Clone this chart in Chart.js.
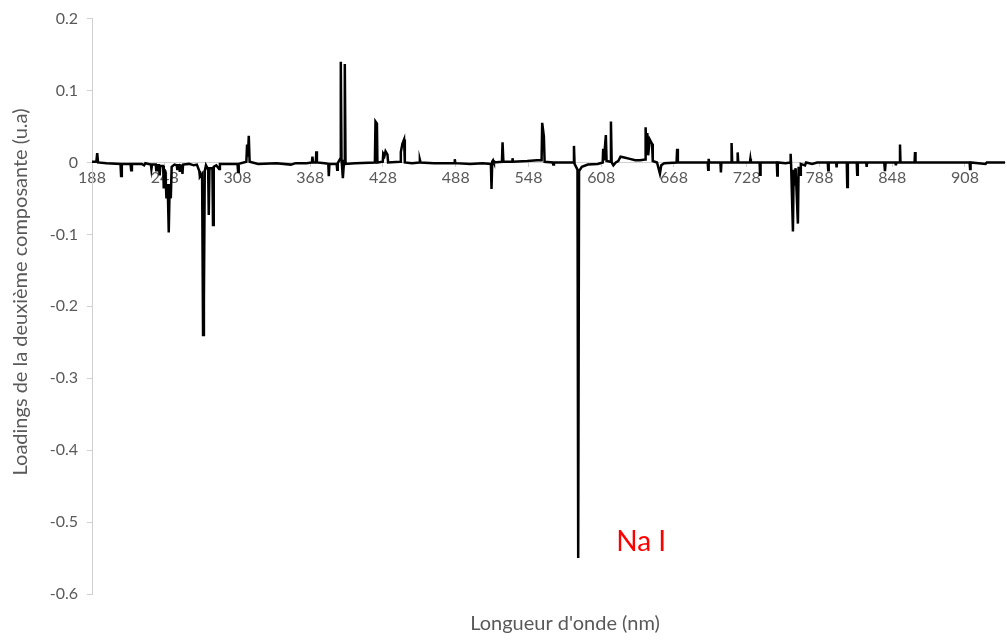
<!DOCTYPE html>
<html lang="fr">
<head>
  <meta charset="UTF-8">
  <title>Loadings PC2</title>
  <style>
    html, body { margin: 0; padding: 0; background: #fff; }
    canvas { display: block; }
  </style>
</head>
<body>
  <canvas id="loadingsChart" width="1007" height="640"></canvas>

  <script src="https://cdn.jsdelivr.net/npm/chart.js"></script>
  <script>
    // Longueurs d'onde (nm) et loadings
    const wavelengths = [
      188, 191.6, 192.3, 193, 200, 211.5, 212, 212.6, 219.8, 220.3, 220.9, 229, 231, 232, 236.6, 237, 237.5, 240.6, 241, 241.5, 243.3, 243.8, 244.3, 246.7, 247.2, 247.7, 248.5, 249.4, 250.4, 251.3, 252.1, 253, 253.7, 256, 257.9, 258.3, 258.8, 260, 260.4, 260.9, 262.2, 262.6, 263.1, 268, 272, 274.5, 276.5, 277, 278.8, 279.6, 280.3, 281, 282, 283.8, 284.3, 284.9, 287.3, 287.8, 288.4, 290.5, 292.8, 293.5, 300,
      308, 308.5, 309, 315.3, 315.9, 316.6, 317.3, 318, 325, 340, 352, 356, 365, 369.4, 369.8, 370.3, 372.6, 373, 373.5, 380, 382.9, 383.3, 383.8, 389.8, 390.2, 390.7, 392.7, 393.2, 393.8, 394.9, 395.9, 396.5, 397.1, 405,
      421.3, 421.8, 423, 423.4, 427.8, 428.2, 429.2, 430.1, 431.7, 432.2, 442.2, 442.7, 444, 445.4, 446, 452, 458, 458.4, 459, 470, 486.8, 487.2, 487.7, 500, 510, 517, 517.5, 518.1, 518.8, 519.5, 526.1, 526.6, 527.3, 534.4, 534.8, 535.3, 547, 555, 558.8, 559.3, 560.7, 561.3, 568, 568.4, 569, 580, 585.1, 585.5, 586, 588.4, 589, 589.7, 592, 597,
      605, 609.2, 609.6, 610.2, 611.8, 612.4, 615.5, 616, 616.6, 618, 620, 622, 623.9, 627, 631.6, 636, 640, 644.2, 644.6, 645.3, 646, 646.7, 648, 649.9, 650.5, 654, 656.4, 657.5, 660, 670.1, 670.6, 671.2, 685, 695.8, 696.2, 696.6, 697, 706.3, 706.7, 707.1, 715.1, 715.5, 716, 720.1, 720.5, 721, 728, 730.6, 731, 731.4, 738.6, 739, 739.4, 745, 752.8, 753.2, 753.6,
      760, 763.8, 764.2, 764.6, 766.1, 766.7, 767.5, 768.3, 770.2, 770.8, 772, 772.6, 776, 777, 782, 786, 794.8, 795.2, 795.6, 801.7, 802.1, 802.5, 810.5, 810.9, 811.4, 818.7, 819.1, 819.6, 826.5, 826.9, 827.3, 841.4, 842, 842.6, 850.6, 851, 851.4, 854, 854.4, 854.8, 866.4, 866.8, 867.2, 880, 911.8, 912.2, 912.6, 925, 926, 941
    ];
    const loadings = [
      0.001, 0.001, 0.013, 0, -0.001, -0.002, -0.019, -0.002, -0.002, -0.011, -0.002, -0.002, -0.004, -0.001, -0.003, -0.009, -0.003, -0.003, -0.011, -0.004, -0.004, -0.018, -0.005, -0.005, -0.036, -0.01, -0.012, -0.05, -0.03, -0.0975, -0.03, -0.05, -0.006, -0.003, -0.004, -0.009, -0.004, -0.004, -0.013, -0.004, -0.005, -0.016, -0.003, -0.002, -0.004, -0.003, -0.012, -0.02, -0.016, -0.24, -0.193, -0.012, -0.004, -0.01, -0.073, -0.008, -0.008, -0.087, -0.006, -0.004, -0.009, -0.002, -0.002,
      -0.002, -0.013, -0.002, 0.001, 0.025, 0.008, 0.037, 0.001, -0.002, -0.001, -0.003, -0.001, -0.001, 0, 0.008, 0, 0, 0.0155, 0, -0.001, -0.002, -0.019, -0.002, -0.002, -0.01, -0.001, 0.005, 0.14, 0.005, -0.022, 0.002, 0.137, -0.002, -0.001,
      0, 0.057, 0.054, 0, 0.001, 0.012, 0.009, 0.0155, 0.011, 0, 0.001, 0.0145, 0.026, 0.032, 0, -0.001, 0, 0.004, 0, -0.001, -0.001, 0.0045, -0.001, -0.002, -0.001, -0.002, -0.037, 0.001, 0.003, 0, 0.001, 0.028, 0.001, 0.001, 0.006, 0.001, 0.002, 0.003, 0.003, 0.055, 0.036, 0.001, 0, -0.003, 0, 0, 0, 0.023, -0.002, -0.01, -0.55, -0.012, -0.006, -0.003,
      -0.002, 0, 0.019, 0.003, 0.038, 0.002, 0.001, 0.057, 0, -0.004, 0, 0.002, 0.008, 0.007, 0.005, 0.003, 0.003, 0.004, 0.049, 0.01, 0.041, 0.01, 0.032, 0.026, 0.002, 0, -0.0155, -0.004, -0.001, 0, 0.019, 0, 0, 0, -0.01, 0.005, 0, 0, -0.014, 0, 0, 0.027, 0, 0, 0.014, 0, 0, 0, 0.005, 0, 0, -0.017, 0, 0, 0, -0.018, 0,
      -0.001, 0, 0.012, -0.004, -0.096, -0.01, -0.02, -0.008, -0.085, -0.006, -0.017, -0.002, -0.004, 0, -0.002, 0, 0, -0.011, 0, 0, -0.007, 0, 0, -0.034, 0, 0, -0.017, 0, 0, -0.006, 0, 0, -0.012, 0, 0, -0.004, 0, 0, 0.025, 0, 0, 0.0145, 0, 0, 0, -0.009, 0, -0.002, 0, 0
    ];
    const xTickValues = [188, 248, 308, 368, 428, 488, 548, 608, 668, 728, 788, 848, 908];
    const yTickValues = [0.2, 0.1, 0, -0.1, -0.2, -0.3, -0.4, -0.5, -0.6];

    const xTitle = "Longueur d'onde (nm)";
    const yTitle = 'Loadings de la deuxième composante (u.a)';
    const peakLabel = 'Na I';

    const textGrey = '#595959';
    const axisGrey = '#d0d0d0';

    // titres + étiquette Na I
    const extraText = {
      id: 'extraText',
      afterDraw(chart) {
        const ctx = chart.ctx;
        const { x, y } = chart.scales;
        ctx.save();
        ctx.fillStyle = textGrey;
        ctx.font = '20px Lato';
        ctx.textAlign = 'center';
        ctx.textBaseline = 'middle';
        ctx.fillText(xTitle, 565, 624);

        ctx.translate(21, 292);
        ctx.rotate(-Math.PI / 2);
        ctx.fillText(yTitle, 0, 0);
        ctx.restore();

        ctx.save();
        ctx.fillStyle = '#ff0000';
        ctx.font = '28px Lato';
        ctx.textAlign = 'center';
        ctx.textBaseline = 'middle';
        ctx.fillText(peakLabel, x.getPixelForValue(641), y.getPixelForValue(-0.527));
        ctx.restore();
      }
    };

    const ctxLoad = document.getElementById('loadingsChart').getContext('2d');
    const loadingsChart = new Chart(ctxLoad, {
      type: 'line',
      data: {
        datasets: [{
          data: wavelengths.map((w, i) => ({ x: w, y: loadings[i] })),
          borderColor: '#000000',
          borderWidth: 2.5,
          pointRadius: 0,
          tension: 0,
          fill: false
        }]
      },
      options: {
        responsive: false,
        animation: false,
        events: [],
        layout: { padding: { top: 16, right: 2, bottom: 46, left: 0 } },
        plugins: {
          legend: { display: false },
          tooltip: { enabled: false }
        },
        scales: {
          x: {
            type: 'linear',
            position: { y: 0 },
            min: 188,
            max: 941,
            afterBuildTicks: scale => { scale.ticks = xTickValues.map(v => ({ value: v })); },
            afterFit: scale => { scale.height = 0; },
            grid: { drawOnChartArea: false, drawTicks: true, tickLength: 4, color: axisGrey },
            border: { display: true, color: axisGrey, width: 1 },
            ticks: {
              autoSkip: false,
              maxRotation: 0,
              padding: 2,
              color: textGrey,
              font: { family: 'Lato', size: 16 },
              callback: v => String(v)
            }
          },
          y: {
            min: -0.6,
            max: 0.2,
            afterBuildTicks: scale => { scale.ticks = yTickValues.map(v => ({ value: v })); },
            afterFit: scale => { scale.width = 92; },
            grid: { drawOnChartArea: false, drawTicks: true, tickLength: 5, color: axisGrey },
            border: { display: true, color: axisGrey, width: 1 },
            ticks: {
              padding: 9,
              color: textGrey,
              font: { family: 'Lato', size: 16 },
              callback: v => String(Number(v.toFixed(1)))
            }
          }
        }
      },
      plugins: [extraText]
    });
  </script>
</body>
</html>
